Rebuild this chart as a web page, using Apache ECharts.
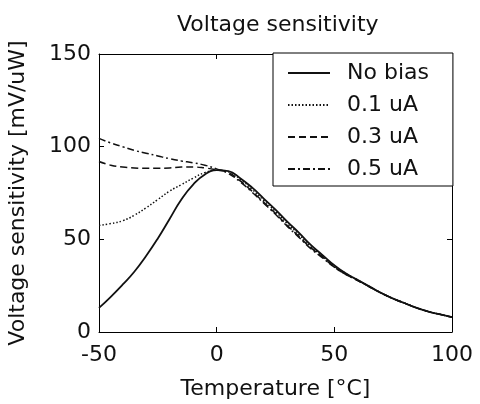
<!DOCTYPE html>
<html>
<head>
<meta charset="utf-8">
<script src="https://cdn.jsdelivr.net/npm/echarts@6/dist/echarts.min.js"></script>
<style>html,body{margin:0;padding:0;background:#fff}#c{width:480px;height:404px}</style>
</head>
<body>
<div id="c"></div>
<script>
const temps = [-50,-45,-40,-35,-30,-25,-20,-15,-10,-5,0,5,10,15,20,25,30,35,40,45,50,55,60,65,70,75,80,85,90,95,100];
const noBias = [13,19,25.5,32.5,41,50.5,61,71.5,79.5,85,87.3,86.8,83,78,72,66,59.5,53.5,47,41.5,36,31.5,28,24.5,21,18,15.5,13,11,9.5,8];
const bias01 = [57.5,58.5,60,63,67,71.5,76,79.5,83,86,87.3,86.5,82.5,77,71,65,58.5,52.5,46,41,35.5,31.5,28,24.5,21,18,15.5,13,11,9.5,8];
const bias03 = [92,90,89,88.5,88.3,88.3,88.5,89,89,88.5,87.5,86,81.5,76,70,64,57.5,51.5,45.5,40.5,35,31,27.8,24.3,21,18,15.5,13,11,9.5,8];
const bias05 = [104.5,102,100,98,96.5,95,93.5,92.3,91.3,90,88,85.5,81,75.5,69.5,63.5,57,51,45,40,35,31,27.8,24.3,21,18,15.5,13,11,9.5,8];
const seriesNames = ['No bias','0.1 uA','0.3 uA','0.5 uA'];
const xTicks = [-50,0,50,100];
const yTicks = [0,50,100,150];

const FONT = 'DejaVu Sans';
const pair = arr => temps.map((t,i)=>[t,arr[i]]);
const dashes = ['solid',[1.5,2],[7,4],[7,3,2,3]];
const datas = [noBias,bias01,bias03,bias05];

const chart = echarts.init(document.getElementById('c'), null, {renderer:'canvas'});
const axBase = {
  axisLine:{show:true,onZero:false,lineStyle:{color:'#000',width:1}},
  axisTick:{show:true,inside:true,length:5,lineStyle:{color:'#000'}},
  splitLine:{show:false}
};
chart.setOption({
  animation:false,
  backgroundColor:'#fff',
  title:{text:'Voltage sensitivity',left:172,top:9,textStyle:{fontFamily:FONT,fontSize:22,fontWeight:'normal',color:'#111'}},
  grid:{left:99,right:28,top:54,bottom:72,containLabel:false,outerBoundsMode:'none'},
  legend:{
    data:seriesNames, orient:'vertical', left:273, top:53,
    backgroundColor:'#fff', borderColor:'#000', borderWidth:1,
    padding:[7,24,4,14], itemWidth:42, itemHeight:14, itemGap:6,
    itemStyle:{color:'transparent',borderColor:'transparent',borderWidth:0},
    textStyle:{fontFamily:FONT,fontSize:22,lineHeight:26,color:'#111',padding:[0,0,0,12]}
  },
  xAxis:[
    Object.assign({type:'value',min:-50,max:100,interval:50,position:'bottom',
      name:'Temperature [°C]',nameLocation:'middle',nameGap:46,
      nameTextStyle:{fontFamily:FONT,fontSize:22,color:'#111'},
      axisLabel:{fontFamily:FONT,fontSize:22,color:'#111',margin:12,formatter:v=>xTicks.includes(v)?String(v):''}},axBase),
    Object.assign({type:'value',min:-50,max:100,interval:50,position:'top',axisLabel:{show:false}},axBase)
  ],
  yAxis:[
    Object.assign({type:'value',min:0,max:150,interval:50,position:'left',
      name:'Voltage sensitivity [mV/uW]',nameLocation:'middle',nameGap:70,
      nameTextStyle:{fontFamily:FONT,fontSize:22,color:'#111'},
      axisLabel:{fontFamily:FONT,fontSize:22,color:'#111',margin:8,formatter:v=>yTicks.includes(v)?String(v):''}},axBase),
    Object.assign({type:'value',min:0,max:150,interval:50,position:'right',axisLabel:{show:false}},axBase)
  ],
  series: seriesNames.map((n,i)=>({
    name:n,type:'line',data:pair(datas[i]),smooth:0.5,symbol:'none',showSymbol:false,
    xAxisIndex:0,yAxisIndex:0,
    lineStyle:{color:'#111',width:i===0?1.8:1.5,type:dashes[i]},
    itemStyle:{color:'#111'},
    z:10-i
  }))
});
</script>
</body>
</html>
